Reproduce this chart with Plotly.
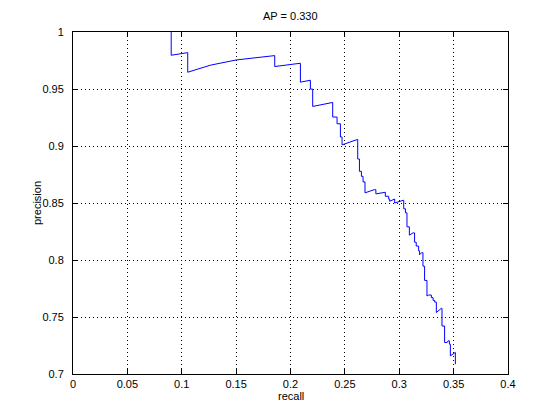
import plotly.graph_objects as go

recall = [0.0903, 0.0903, 0.1055, 0.1055, 0.1264, 0.1503, 0.1855, 0.1855, 0.2091, 0.2091,
          0.2183, 0.2183, 0.2204, 0.2204, 0.2388, 0.2388, 0.2428, 0.2428, 0.2459, 0.2459,
          0.2474, 0.2474, 0.2618, 0.2618, 0.2634, 0.2634, 0.2652, 0.2652, 0.2667, 0.2667,
          0.2685, 0.2685, 0.2771, 0.2785, 0.2785, 0.2857, 0.2872, 0.2872, 0.2903, 0.2903,
          0.2912, 0.2912, 0.2958, 0.2958, 0.3041, 0.3041, 0.3057, 0.3057, 0.3071, 0.3071,
          0.3093, 0.3093, 0.3127, 0.3141, 0.3141, 0.3156, 0.3156, 0.3178, 0.3178, 0.3187,
          0.3187, 0.3205, 0.3218, 0.3218, 0.3233, 0.3233, 0.3255, 0.3255, 0.3270, 0.3295,
          0.3295, 0.3311, 0.3311, 0.3326, 0.3326, 0.3341, 0.3341, 0.3387, 0.3393, 0.3393,
          0.3408, 0.3417, 0.3417, 0.3440, 0.3449, 0.3461, 0.3461, 0.3470, 0.3470, 0.3509,
          0.3516, 0.3516]
precision = [1.0000, 0.9796, 0.9819, 0.9647, 0.9709, 0.9755, 0.9793, 0.9697, 0.9726, 0.9560,
             0.9577, 0.9499, 0.9499, 0.9347, 0.9382, 0.9254, 0.9254, 0.9195, 0.9195, 0.9079,
             0.9079, 0.9010, 0.9058, 0.8886, 0.8886, 0.8778, 0.8778, 0.8734, 0.8734, 0.8685,
             0.8685, 0.8589, 0.8617, 0.8617, 0.8580, 0.8594, 0.8594, 0.8559, 0.8559, 0.8534,
             0.8534, 0.8515, 0.8535, 0.8500, 0.8525, 0.8449, 0.8449, 0.8414, 0.8414, 0.8291,
             0.8291, 0.8218, 0.8238, 0.8238, 0.8156, 0.8156, 0.8122, 0.8122, 0.8080, 0.8080,
             0.8046, 0.8064, 0.8064, 0.7946, 0.7946, 0.7821, 0.7821, 0.7684, 0.7693, 0.7693,
             0.7670, 0.7670, 0.7646, 0.7646, 0.7631, 0.7631, 0.7539, 0.7576, 0.7576, 0.7421,
             0.7421, 0.7421, 0.7276, 0.7276, 0.7291, 0.7291, 0.7262, 0.7262, 0.7159, 0.7189,
             0.7189, 0.7086]

x_ticks = [0, 0.05, 0.1, 0.15, 0.2, 0.25, 0.3, 0.35, 0.4]
x_labels = ["0", "0.05", "0.1", "0.15", "0.2", "0.25", "0.3", "0.35", "0.4"]
y_ticks = [0.7, 0.75, 0.8, 0.85, 0.9, 0.95, 1.0]
y_labels = ["0.7", "0.75", "0.8", "0.85", "0.9", "0.95", "1"]

title_text = "AP = 0.330"
x_title = "recall"
y_title = "precision"

FONT = "Liberation Sans, Arial, Helvetica, sans-serif"

fig = go.Figure()
fig.add_trace(go.Scatter(x=recall, y=precision, mode="lines",
                         line=dict(color="rgb(0,0,255)", width=1), showlegend=False,
                         hoverinfo="skip"))

axis_common = dict(
    showline=True, linecolor="black", linewidth=1, mirror="ticks",
    ticks="inside", ticklen=5, tickcolor="black", tickwidth=1,
    showgrid=True, gridcolor="black", gridwidth=1, griddash="1px,3px",
    zeroline=False, automargin=False,
    tickfont=dict(family=FONT, size=11, color="black"),
)

fig.update_xaxes(range=[0, 0.4], tickvals=x_ticks, ticktext=x_labels, **axis_common)
fig.update_yaxes(range=[0.7, 1.0], tickvals=y_ticks, ticktext=y_labels,
                 ticklabelstandoff=6, **axis_common)

# page body has an 8px default margin, so margins are reduced by 8 on left/top
fig.update_layout(
    width=560, height=420,
    margin=dict(l=65, r=60, t=24, b=54, pad=0),
    paper_bgcolor="white", plot_bgcolor="white",
    font=dict(family=FONT, size=11, color="black"),
    annotations=[
        dict(text=title_text, xref="paper", yref="paper", x=0.5, y=1.0, yshift=16,
             showarrow=False, font=dict(size=11, family=FONT, color="black"),
             xanchor="center", yanchor="middle"),
        dict(text=x_title, xref="paper", yref="paper", x=0.5, y=0, yshift=-22,
             showarrow=False, font=dict(size=11, family=FONT, color="black"),
             xanchor="center", yanchor="middle"),
        dict(text=y_title, xref="paper", yref="paper", x=0, y=0.5, xshift=-36,
             textangle=-90, showarrow=False, font=dict(size=11, family=FONT, color="black"),
             xanchor="center", yanchor="middle"),
    ],
)

fig.write_html("out.html")
